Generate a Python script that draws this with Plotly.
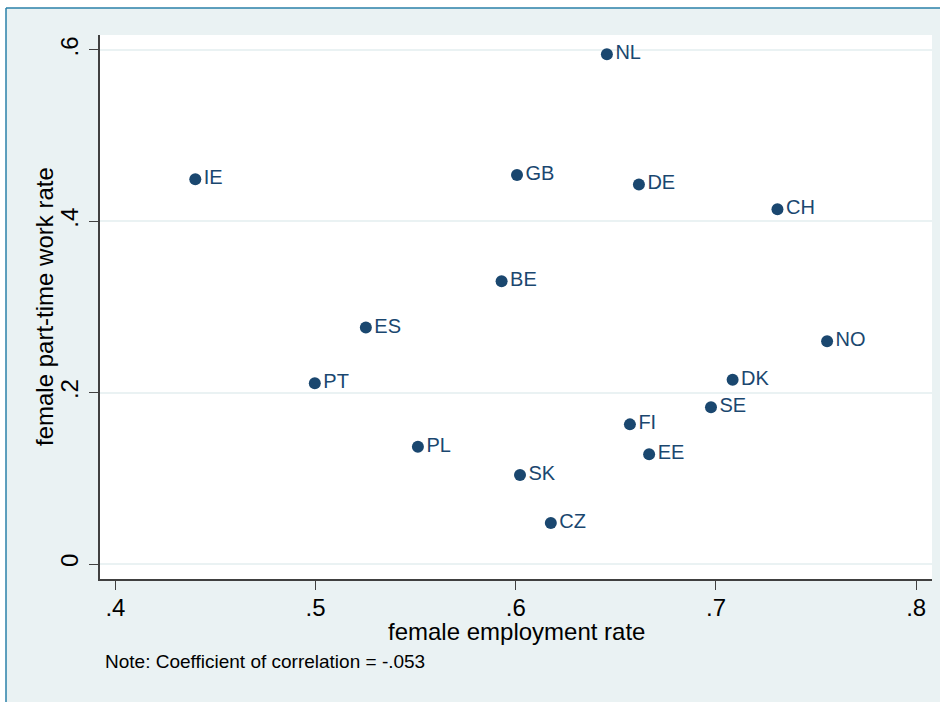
import plotly.graph_objects as go

# Country codes and their female labour-market indicators
countries = ["NL", "IE", "GB", "DE", "CH", "BE", "ES", "NO", "PT", "DK",
             "SE", "FI", "EE", "PL", "SK", "CZ"]
employment_rate = [0.6455, 0.4399, 0.6006, 0.6615, 0.7307, 0.5929, 0.5251, 0.7555,
                   0.4996, 0.7083, 0.6975, 0.6570, 0.6666, 0.5511, 0.6021, 0.6175]
parttime_rate = [0.595, 0.449, 0.454, 0.443, 0.414, 0.330, 0.276, 0.260,
                 0.211, 0.215, 0.183, 0.163, 0.128, 0.137, 0.104, 0.048]

x_ticks = [0.4, 0.5, 0.6, 0.7, 0.8]
x_ticktext = [".4", ".5", ".6", ".7", ".8"]
y_ticks = [0.0, 0.2, 0.4, 0.6]
y_ticktext = ["0", ".2", ".4", ".6"]

NAVY = "#1a476f"
FRAME_BG = "#eaf2f3"
FRAME_LINE = "#2a80a8"
FONT = "Liberation Sans, Arial, sans-serif"

fig = go.Figure()
fig.add_trace(go.Scatter(
    x=employment_rate, y=parttime_rate, text=countries,
    mode="markers+text", textposition="middle right",
    marker=dict(size=12, color=NAVY, line=dict(width=0)),
    textfont=dict(family=FONT, size=20, color=NAVY),
    cliponaxis=False, hoverinfo="text",
))

# Graph region is the light panel; a white margin with a thin blue edge
# runs along the top and left sides
L, R, T, B = 100, 932, 35, 579
W, H = 940, 702
pw, ph = R - L, B - T
px = lambda v: (v - L) / pw
py = lambda v: (B - v) / ph
fig.add_shape(type="rect", xref="paper", yref="paper", layer="below",
              x0=px(0), x1=px(W), y0=py(0), y1=py(8),
              fillcolor="white", line=dict(width=0))
fig.add_shape(type="rect", xref="paper", yref="paper", layer="below",
              x0=px(0), x1=px(6), y0=py(0), y1=py(H),
              fillcolor="white", line=dict(width=0))
fig.add_shape(type="line", xref="paper", yref="paper", layer="below",
              x0=px(6), x1=px(W), y0=py(8), y1=py(8),
              line=dict(color=FRAME_LINE, width=1.5))
fig.add_shape(type="line", xref="paper", yref="paper", layer="below",
              x0=px(6), x1=px(6), y0=py(8), y1=py(H),
              line=dict(color=FRAME_LINE, width=1.5))

fig.update_layout(
    width=W, height=H,
    margin=dict(l=L, r=W - R, t=T, b=H - B),
    paper_bgcolor=FRAME_BG, plot_bgcolor="white",
    showlegend=False,
    font=dict(family=FONT, color="black"),
    xaxis=dict(
        range=[0.3923, 0.8079], tickvals=x_ticks, ticktext=x_ticktext,
        showgrid=False, zeroline=False,
        showline=True, linecolor="#404040", linewidth=1.5,
        ticks="outside", ticklen=9, tickwidth=1.2, tickcolor="#404040",
        ticklabelstandoff=-3,
        tickfont=dict(family=FONT, size=24, color="black"),
    ),
    yaxis=dict(
        range=[-0.0175, 0.6175], tickvals=y_ticks, ticktext=y_ticktext,
        showgrid=True, gridcolor=FRAME_BG, gridwidth=1.5, zeroline=False,
        showline=True, linecolor="#404040", linewidth=1.5,
        ticks="outside", ticklen=9, tickwidth=1.2, tickcolor="#404040",
        tickangle=-90, ticklabelstandoff=2,
        tickfont=dict(family=FONT, size=24, color="black"),
    ),
    annotations=[
        dict(text="female employment rate", xref="paper", yref="paper",
             x=0.5, y=py(631), xanchor="center", yanchor="middle",
             showarrow=False, font=dict(family=FONT, size=24, color="black")),
        dict(text="female part-time work rate", xref="paper", yref="paper",
             x=px(44), y=0.5, xanchor="center", yanchor="middle",
             textangle=-90, showarrow=False,
             font=dict(family=FONT, size=24, color="black")),
        dict(text="Note: Coefficient of correlation = -.053", xref="paper", yref="paper",
             x=px(103), y=py(661), xanchor="left", yanchor="middle",
             showarrow=False, font=dict(family=FONT, size=19, color="black")),
    ],
)

fig.write_html("out.html")
